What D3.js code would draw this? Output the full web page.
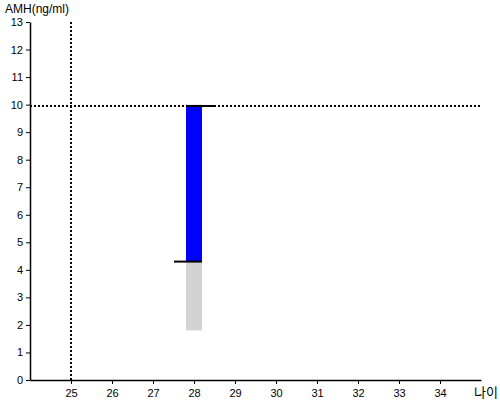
<!DOCTYPE html>
<html>
<head>
<meta charset="utf-8">
<script src="https://cdn.jsdelivr.net/npm/d3@7"></script>
<style>
  body { margin: 0; background: #fff; }
  text { font-family: "Liberation Sans", Arial, sans-serif; }
</style>
</head>
<body>
<svg id="chart" width="500" height="400"></svg>
<script>
// Data
const xTicks = [25, 26, 27, 28, 29, 30, 31, 32, 33, 34];
const yTicks = [0, 1, 2, 3, 4, 5, 6, 7, 8, 9, 10, 11, 12, 13];
const xDomain = [24, 35];
const yDomain = [0, 13];
const rangeAge = [28];
const rangeLow = [1.8];
const rangeHigh = [10.0];
const barAge = [28];
const barLow = [4.3];
const barHigh = [9.95];
const refAge = 25;
const refAMH = 9.95;
const yLabel = "AMH(ng/ml)";
const xLabel = "나이";

const svg = d3.select("#chart");
const x = d3.scaleLinear().domain(xDomain).range([30, 481]);
const y = d3.scaleLinear().domain(yDomain).range([380, 22]);
const bw = 16;

// gray range bar
svg.selectAll("rect.range").data(rangeAge).join("rect")
  .attr("x", (d) => x(d) - bw / 2)
  .attr("width", bw)
  .attr("y", (d, i) => y(rangeHigh[i]))
  .attr("height", (d, i) => y(rangeLow[i]) - y(rangeHigh[i]))
  .attr("fill", "#d3d3d3");

// blue bar
svg.selectAll("rect.bar").data(barAge).join("rect")
  .attr("x", (d) => x(d) - bw / 2)
  .attr("width", bw)
  .attr("y", (d, i) => y(barHigh[i]))
  .attr("height", (d, i) => y(barLow[i]) - y(barHigh[i]))
  .attr("fill", "#0000ff");

// reference dotted lines
svg.append("line")
  .attr("x1", x(xDomain[0])).attr("x2", x(xDomain[1]))
  .attr("y1", y(refAMH)).attr("y2", y(refAMH))
  .attr("stroke", "#000").attr("stroke-width", 2).attr("stroke-dasharray", "2,2");
svg.append("line")
  .attr("x1", x(refAge)).attr("x2", x(refAge))
  .attr("y1", y(yDomain[1])).attr("y2", y(yDomain[0]))
  .attr("stroke", "#000").attr("stroke-width", 2).attr("stroke-dasharray", "2,2");

// black markers
barAge.forEach((d, i) => {
  svg.append("line")
    .attr("x1", x(d) - bw / 2).attr("x2", x(d) + bw / 2 + 12)
    .attr("y1", y(barHigh[i])).attr("y2", y(barHigh[i]))
    .attr("stroke", "#000").attr("stroke-width", 2);
  svg.append("line")
    .attr("x1", x(d) - bw / 2 - 12).attr("x2", x(d) + bw / 2)
    .attr("y1", y(barLow[i])).attr("y2", y(barLow[i]))
    .attr("stroke", "#000").attr("stroke-width", 2);
});

// axes
const xAxis = d3.axisBottom(x).tickValues(xTicks).tickSize(4).tickSizeOuter(0);
const gx = svg.append("g").attr("transform", "translate(0,380)").call(xAxis);
const yAxis = d3.axisLeft(y).tickValues(yTicks).tickSize(4).tickSizeOuter(0);
const gy = svg.append("g").attr("transform", "translate(30,0)").call(yAxis);
[gx, gy].forEach(g => {
  g.select(".domain").attr("stroke", "#000").attr("stroke-width", 1.5);
  g.selectAll(".tick line").attr("stroke", "#000");
  g.selectAll(".tick text").attr("fill", "#000")
    .style("font-family", "'Liberation Sans', Arial, sans-serif").style("font-size", "11px");
});
gx.selectAll(".tick text").attr("dy", "0.9em");

// labels
svg.append("text").attr("x", 5).attr("y", 13)
  .style("font-size", "12px").attr("fill", "#000").text(yLabel);
svg.append("text").attr("x", 474).attr("y", 397)
  .style("font-family", "'Noto Sans CJK KR', sans-serif")
  .style("font-size", "13px").attr("fill", "#000").text(xLabel);
</script>
</body>
</html>
